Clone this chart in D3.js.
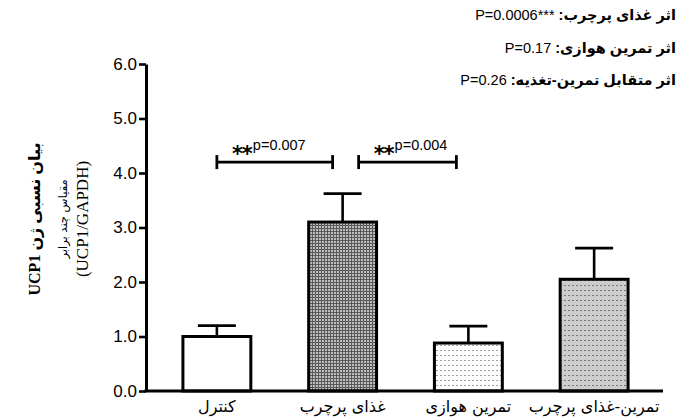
<!DOCTYPE html>
<html>
<head>
<meta charset="utf-8">
<script src="https://cdn.jsdelivr.net/npm/d3@7"></script>
<style>
  html, body { margin: 0; padding: 0; background: #fff; }
  svg { display: block; }
</style>
</head>
<body>
<div id="chart"></div>
<script>
// Relative UCP1 expression by group (mean and mean + SE)
const categories = ["کنترل", "غذای پرچرب", "تمرین هوازی", "تمرین-غذای پرچرب"];
const means = [1.0, 3.1, 0.88, 2.05];
const upperErr = [1.2, 3.62, 1.19, 2.62];
const fills = ["white", "url(#meshDark)", "url(#dotsLight)", "url(#dotsGray)"];
const yTicks = [0, 1, 2, 3, 4, 5, 6];

// Pairwise comparisons drawn as brackets
const comparisons = [
  { from: 0, to: 1, level: 4.2, stars: "**", p: "p=0.007" },
  { from: 1, to: 2, level: 4.2, stars: "**", p: "p=0.004" }
];

// Two-way ANOVA effects listed top right
const effectLabels = ["اثر غذای پرچرب: ", "اثر تمرین هوازی: ", "اثر متقابل تمرین-تغذیه: "];
const effectValues = ["***P=0.0006", "P=0.17", "P=0.26"];

const W = 684, H = 418;
const svg = d3.select("#chart").append("svg").attr("width", W).attr("height", H);

// Fill patterns
const defs = svg.append("defs");
function pattern(id, w, h, bg, marks) {
  const p = defs.append("pattern").attr("id", id)
    .attr("patternUnits", "userSpaceOnUse").attr("width", w).attr("height", h);
  p.append("rect").attr("width", w).attr("height", h).attr("fill", bg);
  marks.forEach(m => p.append("rect").attr("x", m[0]).attr("y", m[1])
    .attr("width", m[2]).attr("height", m[3]).attr("fill", m[4]));
}
pattern("meshDark", 3, 3, "#5a5a5a", [[1, 1, 2, 2, "#bcbcbc"]]);
pattern("dotsLight", 4, 5, "#ffffff", [[0, 0, 2, 1, "#a0a0a0"]]);
pattern("dotsGray", 4, 5, "#cdcdcd", [[0, 0, 2, 1, "#7a7a7a"]]);

const x = d3.scaleBand().domain(categories).range([154, 657])
  .paddingInner(0.46).paddingOuter(0.23);
const y = d3.scaleLinear().domain([0, 6]).range([391, 64]);
const axisX = 146;

// Y axis
const yAxis = svg.append("g").attr("transform", `translate(${axisX},0)`)
  .call(d3.axisLeft(y).tickValues(yTicks).tickFormat(d3.format(".1f")).tickSize(7).tickSizeOuter(0));
yAxis.select(".domain").attr("stroke", "#000").attr("stroke-width", 3);
yAxis.selectAll(".tick line").attr("stroke", "#000").attr("stroke-width", 2.6);
yAxis.selectAll(".tick text")
  .attr("font-family", "'Liberation Sans', Arial, sans-serif")
  .attr("font-size", 17).attr("fill", "#000").attr("x", -9);

// Bars
const cx = i => x(categories[i]) + x.bandwidth() / 2;
const capHalf = 19;

const groups = svg.append("g").selectAll("g").data(categories).join("g");

// error bars first, bars on top
groups.append("line")
  .attr("x1", (d, i) => cx(i)).attr("x2", (d, i) => cx(i))
  .attr("y1", (d, i) => y(means[i])).attr("y2", (d, i) => y(upperErr[i]))
  .attr("stroke", "#000").attr("stroke-width", 2.6);
groups.append("line")
  .attr("x1", (d, i) => cx(i) - capHalf).attr("x2", (d, i) => cx(i) + capHalf)
  .attr("y1", (d, i) => y(upperErr[i])).attr("y2", (d, i) => y(upperErr[i]))
  .attr("stroke", "#000").attr("stroke-width", 2.8);

groups.append("rect")
  .attr("x", d => x(d))
  .attr("width", x.bandwidth())
  .attr("y", (d, i) => y(means[i]))
  .attr("height", (d, i) => y(0) - y(means[i]))
  .attr("fill", (d, i) => fills[i])
  .attr("stroke", "#000").attr("stroke-width", 3);

// Baseline
svg.append("line").attr("x1", axisX - 1.5).attr("x2", 663)
  .attr("y1", y(0)).attr("y2", y(0))
  .attr("stroke", "#000").attr("stroke-width", 3);

// Category labels
svg.append("g").selectAll("text").data(categories).join("text")
  .attr("x", (d, i) => cx(i)).attr("y", 412)
  .attr("text-anchor", "middle")
  .attr("font-family", "'DejaVu Sans', sans-serif")
  .attr("font-size", 16).attr("fill", "#000")
  .attr("direction", "rtl")
  .text(d => d);

// Comparison brackets
const bx1 = c => cx(c.from) + (c.from === 0 ? 0 : 16);
const bx2 = c => cx(c.to) - (c.from === 0 ? 10 : 12);
const br = svg.append("g").selectAll("g").data(comparisons).join("g");
br.append("line").attr("x1", bx1).attr("x2", bx2)
  .attr("y1", d => y(d.level)).attr("y2", d => y(d.level))
  .attr("stroke", "#000").attr("stroke-width", 2.8);
br.append("line").attr("x1", bx1).attr("x2", bx1)
  .attr("y1", d => y(d.level) - 7).attr("y2", d => y(d.level) + 7)
  .attr("stroke", "#000").attr("stroke-width", 2.8);
br.append("line").attr("x1", bx2).attr("x2", bx2)
  .attr("y1", d => y(d.level) - 7).attr("y2", d => y(d.level) + 7)
  .attr("stroke", "#000").attr("stroke-width", 2.8);
const lab = br.append("text")
  .attr("x", d => bx1(d) + 15).attr("y", d => y(d.level) - 1)
  .attr("font-family", "'Liberation Sans', Arial, sans-serif").attr("fill", "#000");
lab.append("tspan").attr("font-family", "'DejaVu Sans', sans-serif")
  .attr("font-size", 21).attr("font-weight", "bold").attr("letter-spacing", -1).text(d => d.stars);
lab.append("tspan").attr("font-size", 14.5).attr("dy", -11).attr("dx", 1).text(d => d.p);

// Effects
const eff = svg.append("g").selectAll("text").data(effectLabels).join("text")
  .attr("x", 676).attr("y", (d, i) => 20 + i * 32.5)
  .attr("direction", "rtl").attr("text-anchor", "start")
  .attr("font-family", "'Liberation Sans', 'DejaVu Sans', sans-serif")
  .attr("font-size", 14.5).attr("fill", "#000");
eff.append("tspan").attr("font-weight", "bold").text(d => d);
eff.append("tspan").text((d, i) => effectValues[i]);

// Y axis title
const tcy = 219;
svg.append("text")
  .attr("transform", `translate(40,${tcy}) rotate(-90)`)
  .attr("text-anchor", "middle").attr("direction", "rtl")
  .attr("font-family", "'Liberation Serif', 'DejaVu Sans', serif")
  .attr("font-size", 16).attr("font-weight", "bold").attr("fill", "#000")
  .text("بیان نسبی ژن UCP1");
svg.append("text")
  .attr("transform", `translate(67,${tcy}) rotate(-90)`)
  .attr("text-anchor", "middle").attr("direction", "rtl")
  .attr("font-family", "'DejaVu Sans', sans-serif")
  .attr("font-size", 11.5).attr("fill", "#000")
  .text("مقیاس چند برابر");
svg.append("text")
  .attr("transform", `translate(88,${tcy}) rotate(-90)`)
  .attr("text-anchor", "middle")
  .attr("font-family", "'Liberation Serif', serif")
  .attr("font-size", 17).attr("fill", "#000")
  .text("(UCP1/GAPDH)");
</script>
</body>
</html>
